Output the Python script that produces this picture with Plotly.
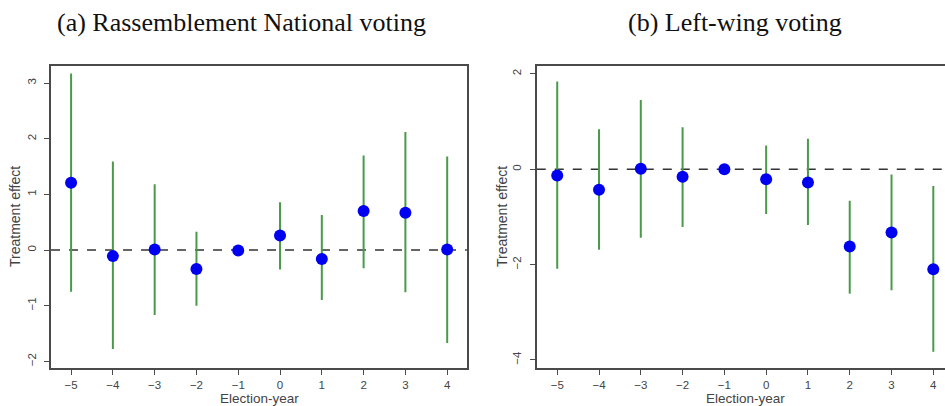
import plotly.graph_objects as go

years = [-5, -4, -3, -2, -1, 0, 1, 2, 3, 4]

# Panel (a): Rassemblement National voting
rn_est = [1.21, -0.11, 0.01, -0.34, -0.01, 0.26, -0.16, 0.70, 0.67, 0.01]
rn_hi = [3.17, 1.59, 1.18, 0.33, -0.01, 0.86, 0.63, 1.70, 2.12, 1.68]
rn_lo = [-0.75, -1.78, -1.17, -1.00, -0.01, -0.35, -0.90, -0.33, -0.76, -1.67]

# Panel (b): Left-wing voting
lw_est = [-0.13, -0.43, 0.01, -0.16, 0.00, -0.21, -0.28, -1.62, -1.33, -2.10]
lw_hi = [1.84, 0.84, 1.45, 0.88, 0.00, 0.50, 0.64, -0.66, -0.11, -0.35]
lw_lo = [-2.09, -1.69, -1.44, -1.21, 0.00, -0.94, -1.17, -2.61, -2.54, -3.83]

yticks_a = [-2, -1, 0, 1, 2, 3]
yticks_b = [-4, -2, 0, 2]

titles = ["(a) Rassemblement National voting", "(b) Left-wing voting"]

GREEN = "#4a9a4a"
BLUE = "#0000f0"
AXC = "#4a4a4a"
TXT = "#444444"
SANS = "Liberation Sans, Arial, sans-serif"
SERIF = "Liberation Serif, Times New Roman, serif"

fig = go.Figure()

def add_panel(est, lo, hi, xa, ya):
    fig.add_trace(go.Scatter(
        x=years, y=est, mode="markers", xaxis=xa, yaxis=ya,
        marker=dict(color=BLUE, size=12, line=dict(width=0)),
        error_y=dict(type="data", symmetric=False,
                     array=[h - e for h, e in zip(hi, est)],
                     arrayminus=[e - l for e, l in zip(est, lo)],
                     color=GREEN, thickness=2, width=0),
        showlegend=False, hoverinfo="x+y"))

add_panel(rn_est, rn_lo, rn_hi, "x", "y")
add_panel(lw_est, lw_lo, lw_hi, "x2", "y2")

axis_common = dict(showgrid=False, zeroline=False, showline=True, linecolor=AXC,
                   linewidth=1.5, ticks="outside", ticklen=5, tickwidth=1,
                   tickcolor=AXC, tickfont=dict(family=SANS, size=11.5, color=TXT))

fig.update_layout(
    width=945, height=406,
    margin=dict(l=0, r=0, t=0, b=0),
    paper_bgcolor="white", plot_bgcolor="white",
    xaxis=dict(domain=[0.054, 0.494], range=[-5.48, 4.47], tickvals=years,
               anchor="y", mirror=True, ticklabelstandoff=0, **axis_common),
    yaxis=dict(domain=[0.0936, 0.838], range=[-2.12, 3.31], tickvals=yticks_a,
               anchor="x", mirror=True, tickangle=-90, ticklabelstandoff=4,
               **axis_common),
    xaxis2=dict(domain=[0.568, 1.0], range=[-5.49, 4.28], tickvals=years,
                anchor="y2", mirror=True, ticklabelstandoff=0, **axis_common),
    yaxis2=dict(domain=[0.0936, 0.838], range=[-4.17, 2.17], tickvals=yticks_b,
                anchor="x2", mirror=False, tickangle=-90, ticklabelstandoff=4,
                **axis_common),
)

for xr in ["x domain", "x2 domain"]:
    yr = "y" if xr.startswith("x ") else "y2"
    fig.add_shape(type="line", xref=xr, yref=yr, x0=0, x1=1, y0=0, y1=0,
                  line=dict(color="#333333", width=1.5, dash="dash"), layer="below")

ann = []
# panel titles
ann.append(dict(text=titles[0], x=241.5 / 945, y=1 - 22 / 406, xref="paper", yref="paper",
                showarrow=False, xanchor="center", yanchor="middle",
                font=dict(family=SERIF, size=26, color="#111111")))
ann.append(dict(text=titles[1], x=735 / 945, y=1 - 22 / 406, xref="paper", yref="paper",
                showarrow=False, xanchor="center", yanchor="middle",
                font=dict(family=SERIF, size=26, color="#111111")))
# x titles
for cx in [259, 745]:
    ann.append(dict(text="Election-year", x=cx / 945, y=1 - 398.5 / 406, xref="paper",
                    yref="paper", showarrow=False, xanchor="center", yanchor="middle",
                    font=dict(family=SANS, size=13.5, color=TXT)))
# y titles
for cx in [15, 502]:
    ann.append(dict(text="Treatment effect", x=cx / 945, y=1 - 217 / 406, xref="paper",
                    yref="paper", showarrow=False, xanchor="center", yanchor="middle",
                    textangle=-90, font=dict(family=SANS, size=14, color=TXT)))
fig.update_layout(annotations=ann)

fig.write_html("out.html")
